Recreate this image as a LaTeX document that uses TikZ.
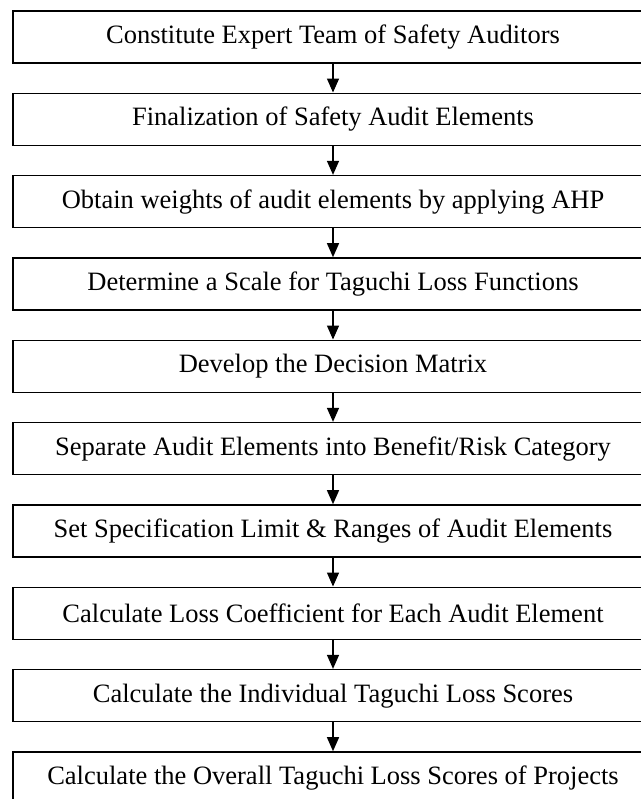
\documentclass[tikz,border=0pt]{standalone}
\usepackage{fontspec}
\setmainfont{Liberation Serif}
\usetikzlibrary{arrows.meta}
\begin{document}
\begin{tikzpicture}[x=1pt,y=-1pt,
  stepbox/.style={draw, line width=1.6pt, minimum width=640pt, minimum height=52pt, inner sep=0pt, font=\fontsize{26.5}{29}\selectfont},
  arr/.style={-{Triangle[length=14pt,width=12pt]}, line width=1.3pt}]
\useasboundingbox (0,0) rectangle (640,799);
\node[stepbox] (b1) at (333,37) {Constitute Expert Team of Safety Auditors};
\node[stepbox] (b2) at (333,119.33) {Finalization of Safety Audit Elements};
\node[stepbox] (b3) at (333,201.67) {Obtain weights of audit elements by applying AHP};
\node[stepbox] (b4) at (333,284) {Determine a Scale for Taguchi Loss Functions};
\node[stepbox] (b5) at (333,366.33) {Develop the Decision Matrix};
\node[stepbox] (b6) at (333,448.67) {Separate Audit Elements into Benefit/Risk Category};
\node[stepbox] (b7) at (333,531) {Set Specification Limit \& Ranges of Audit Elements};
\node[stepbox] (b8) at (333,613.33) {Calculate Loss Coefficient for Each Audit Element};
\node[stepbox] (b9) at (333,695.67) {Calculate the Individual Taguchi Loss Scores};
\node[stepbox] (b10) at (333,778) {Calculate the Overall Taguchi Loss Scores of Projects};
\foreach \a/\b in {b1/b2,b2/b3,b3/b4,b4/b5,b5/b6,b6/b7,b7/b8,b8/b9,b9/b10}
  \draw[arr] (\a) -- (\b);
\end{tikzpicture}
\end{document}
